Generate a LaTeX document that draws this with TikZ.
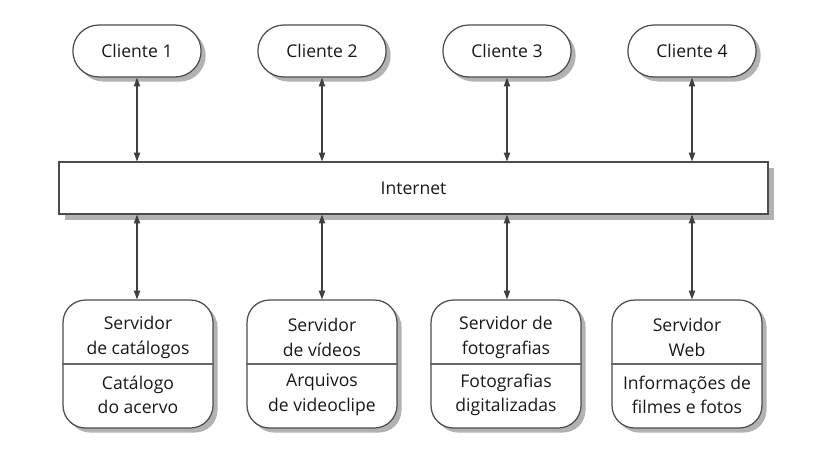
\documentclass[tikz,border=0pt]{standalone}
\usepackage{fontspec}
\setmainfont{Open Sans}
\usetikzlibrary{arrows.meta,shapes.misc,shadows}

\tikzset{
  shade/.style={drop shadow={shadow xshift=2.6pt,shadow yshift=-2.6pt,fill=black!30,opacity=1}},
  client/.style={rounded rectangle, draw=black!70, line width=0.7pt, fill=white,
    minimum width=2.8cm, minimum height=1.04cm, shade, text=black!90, font=\fontsize{10}{14}\selectfont},
  server/.style={rectangle, rounded corners=0.45cm, draw=black!70, line width=0.7pt, fill=white,
    minimum width=3cm, minimum height=2.56cm, shade},
  net/.style={rectangle, draw=black!70, line width=0.7pt, fill=white,
    minimum width=14.18cm, minimum height=1.04cm, text=black!90, font=\fontsize{10}{14}\selectfont,
    drop shadow={shadow xshift=3.6pt,shadow yshift=-3.6pt,fill=black!30,opacity=1}},
  txt/.style={align=center, text=black!90, font=\fontsize{10}{14}\selectfont, inner sep=0pt},
  part/.style={draw=black!60, line width=0.6pt},
  link/.style={{Triangle[length=5pt,width=3.6pt]}-{Triangle[length=5pt,width=3.6pt]}, draw=black!75, line width=0.6pt},
}

\begin{document}
\begin{tikzpicture}[x=0.02cm,y=-0.02cm]
    \useasboundingbox (0,0) rectangle (833,468);

    % Internet
    \node[net] (inet) at (413.5,188) {Internet};

    % Clients
    \node[client] (c1) at (137,51) {Cliente 1};
    \node[client] (c2) at (322,51) {Cliente 2};
    \node[client] (c3) at (507,51) {Cliente 3};
    \node[client] (c4) at (692,51) {Cliente 4};

    % Servers
    \node[server] (s1) at (138,364) {};
    \draw[part] (s1.west) -- (s1.east);
    \node[txt] (s1top) at ([yshift=15pt]s1.center) {Servidor\\de catálogos};
    \node[txt] (s1bot) at ([yshift=-17.5pt]s1.center) {Catálogo\\do acervo};

    \node[server] (s2) at (322,364) {};
    \draw[part] (s2.west) -- (s2.east);
    \node[txt] (s2top) at ([yshift=15pt]s2.center) {Servidor\\de vídeos};
    \node[txt] (s2bot) at ([yshift=-17.5pt]s2.center) {Arquivos\\de videoclipe};

    \node[server] (s3) at (506,364) {};
    \draw[part] (s3.west) -- (s3.east);
    \node[txt] (s3top) at ([yshift=15pt]s3.center) {Servidor de\\fotografias};
    \node[txt] (s3bot) at ([yshift=-17.5pt]s3.center) {Fotografias\\digitalizadas};

    \node[server] (s4) at (687,364) {};
    \draw[part] (s4.west) -- (s4.east);
    \node[txt] (s4top) at ([yshift=15pt]s4.center) {Servidor\\Web};
    \node[txt] (s4bot) at ([yshift=-17.5pt]s4.center) {Informações de\\filmes e fotos};

    % Links
    \draw[link] (c1.south) -- (c1.south |- inet.north);
    \draw[link] (c2.south) -- (c2.south |- inet.north);
    \draw[link] (c3.south) -- (c3.south |- inet.north);
    \draw[link] (c4.south) -- (c4.south |- inet.north);

    \draw[link] (c1.south |- inet.south) -- (c1.south |- s1.north);
    \draw[link] (c2.south |- inet.south) -- (c2.south |- s2.north);
    \draw[link] (c3.south |- inet.south) -- (c3.south |- s3.north);
    \draw[link] (c4.south |- inet.south) -- (c4.south |- s4.north);
\end{tikzpicture}
\end{document}
